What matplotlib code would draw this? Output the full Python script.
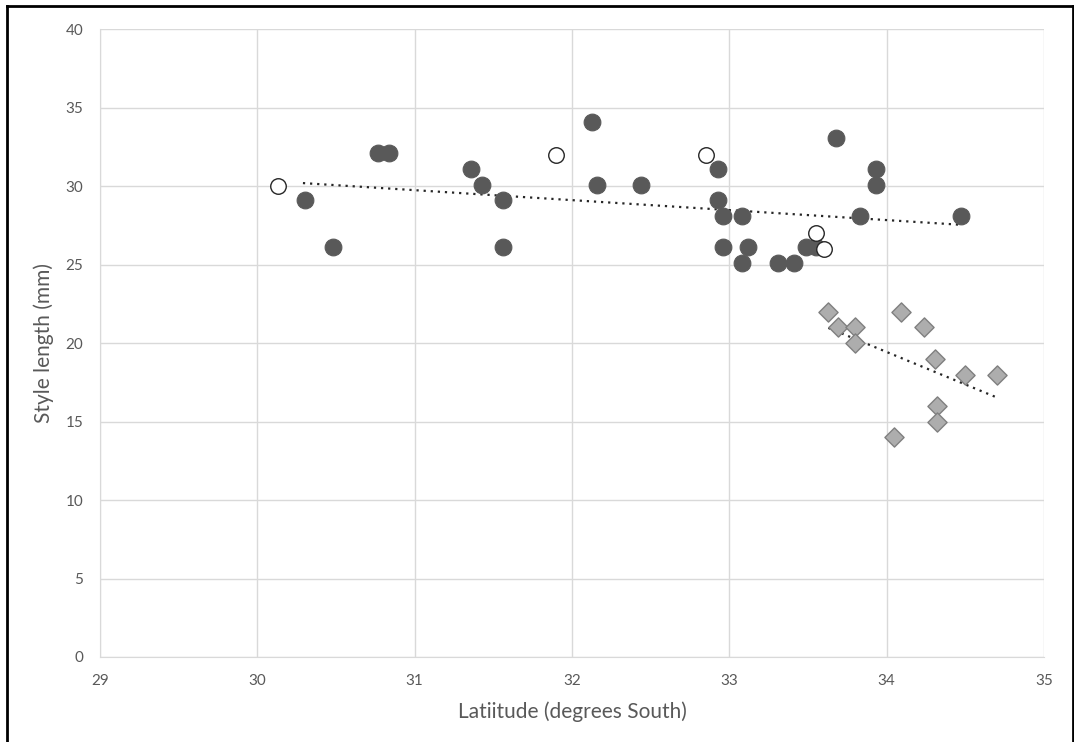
import numpy as np
import matplotlib.pyplot as plt
from matplotlib.lines import Line2D

plt.rcParams["font.family"] = ["Lato", "DejaVu Sans"]

# ---------------- Data ----------------
# filled circles
filled_lat = [30.30, 30.48, 30.77, 30.84, 31.36, 31.43, 31.56, 31.56, 32.13, 32.16,
              32.44, 32.93, 32.93, 32.96, 33.08, 32.96, 33.12, 33.08, 33.31, 33.41,
              33.49, 33.55, 33.68, 33.93, 33.93, 33.83, 34.47]
filled_style = [29.1, 26.1, 32.1, 32.1, 31.1, 30.1, 29.1, 26.1, 34.1, 30.1,
                30.1, 31.1, 29.1, 28.1, 28.1, 26.1, 26.1, 25.1, 25.1, 25.1,
                26.1, 26.1, 33.1, 31.1, 30.1, 28.1, 28.1]

# open circles
open_lat = [30.13, 31.90, 32.85, 33.55, 33.60]
open_style = [30, 32, 32, 27, 26]

# diamonds
diam_lat = [33.63, 33.69, 33.80, 33.80, 34.09, 34.24, 34.31, 34.50, 34.70, 34.32,
            34.32, 34.05]
diam_style = [22, 21, 21, 20, 22, 21, 19, 18, 18, 16,
              15, 14]

# trendline end points as drawn (lat, style)
trend_circles = ([30.29, 34.46], [30.2, 27.55])
trend_diamonds = ([33.63, 34.70], [20.97, 16.54])

x_ticks = [29, 30, 31, 32, 33, 34, 35]
y_ticks = [0, 5, 10, 15, 20, 25, 30, 35, 40]

TEXT = "#595959"
GRID = "#D9D9D9"

# ---------------- Plot ----------------
fig = plt.figure(figsize=(10.74, 7.42), dpi=100)
ax = fig.add_axes([0.0931, 0.1146, 0.8789, 0.8459])

ax.grid(True, color=GRID, linewidth=1.0)
ax.set_axisbelow(True)

for xs, ys in [trend_circles, trend_diamonds]:
    ax.plot(xs, ys, linestyle=(0, (1, 2.2)), color="#262626",
            linewidth=1.6, zorder=3)

ax.scatter(filled_lat, filled_style, s=145, marker="o", color="#595959",
           edgecolors="#595959", linewidths=0.8, zorder=4)
ax.scatter(open_lat, open_style, s=125, marker="o", facecolors="white",
           edgecolors="#262626", linewidths=1.0, zorder=4)
ax.scatter(diam_lat, diam_style, s=95, marker="D", facecolors="#ADADAD",
           edgecolors="#7F7F7F", linewidths=1.0, zorder=4)

ax.set_xlim(29, 35)
ax.set_ylim(0, 40)
ax.set_xticks(x_ticks)
ax.set_yticks(y_ticks)
ax.tick_params(length=0, labelsize=11, colors=TEXT)
ax.tick_params(axis="x", pad=12)
ax.tick_params(axis="y", pad=12)
for side in ["top", "right"]:
    ax.spines[side].set_visible(False)
ax.spines["left"].set_color(GRID)
ax.spines["bottom"].set_color(GRID)

ax.set_xlabel("Latiitude (degrees South)", fontsize=15, color=TEXT, labelpad=10)
ax.set_ylabel("Style length (mm)", fontsize=15, color=TEXT, labelpad=8)

# outer frame (left, top, right)
for xs, ys in [([7.5, 7.5], [0, 736.5]), ([7.5, 1072.5], [736.5, 736.5]),
               ([1072.5, 1072.5], [736.5, 0])]:
    fig.add_artist(Line2D(np.array(xs) / 1074, np.array(ys) / 742,
                          color="black", linewidth=2.0))

fig.savefig("out.png", dpi=100, facecolor="white")
